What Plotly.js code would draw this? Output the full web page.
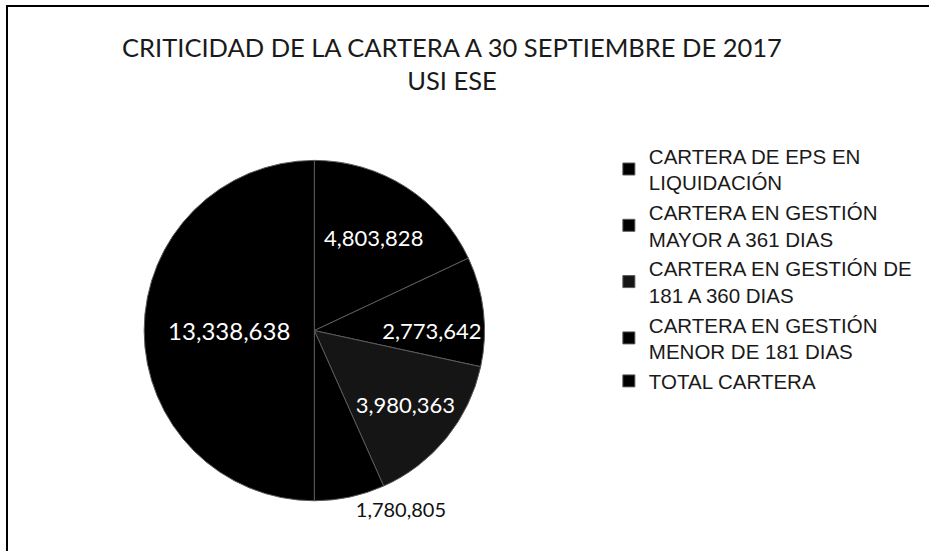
<!DOCTYPE html>
<html>
<head>
<meta charset="utf-8">
<script src="https://cdn.plot.ly/plotly-3.0.1.min.js"></script>
<style>
  html, body { margin: 0; padding: 0; background: #fff; }
  #frame { position: absolute; left: 6px; top: 5px; width: 923px; height: 546px;
           border-left: 2px solid #000; border-top: 2px solid #000; }
  #chart { width: 923px; height: 546px; }
</style>
</head>
<body>
<div id="frame"><div id="chart"></div></div>
<script>
const labels = [
  "CARTERA DE EPS EN<br>LIQUIDACIÓN",
  "CARTERA EN GESTIÓN<br>MAYOR A 361 DIAS",
  "CARTERA EN GESTIÓN DE<br>181 A 360 DIAS",
  "CARTERA EN GESTIÓN<br>MENOR DE 181 DIAS",
  "TOTAL CARTERA"
];
const values = [4803828, 2773642, 3980363, 1780805, 13338638];
const valueText = ["4,803,828", "2,773,642", "3,980,363", "1,780,805", "13,338,638"];

const FONT = "Lato";
const LEGEND_FONT = "Liberation Sans";

const trace = {
  type: "pie",
  labels: labels,
  values: values,
  text: valueText,
  textinfo: "text",
  sort: false,
  direction: "clockwise",
  rotation: 0,
  hoverinfo: "label+value",
  marker: {
    colors: ["#000000", "#000000", "#151515", "#000000", "#000000"],
    line: { color: "#5a5a5a", width: 1 }
  },
  textposition: ["inside", "inside", "inside", "outside", "inside"],
  insidetextorientation: "horizontal",
  textfont: {
    family: FONT,
    size: [22, 22, 22, 20, 24],
    color: ["#ffffff", "#ffffff", "#ffffff", "#111111", "#ffffff"]
  },
  domain: { x: [0.1475, 0.5163], y: [0.0954, 0.7193] }
};

const layout = {
  width: 923, height: 546,
  margin: { l: 0, r: 0, t: 0, b: 0 },
  paper_bgcolor: "#ffffff",
  font: { family: FONT, color: "#000" },
  title: {
    text: "CRITICIDAD DE LA CARTERA A 30 SEPTIEMBRE DE 2017<br>USI ESE",
    font: { family: FONT, size: 25.5, color: "#1a1a1a" },
    x: 0.481, xanchor: "center",
    y: 0.909, yanchor: "top"
  },
  showlegend: true,
  legend: {
    x: 0.651, xanchor: "left",
    y: 0.764, yanchor: "top",
    font: { family: LEGEND_FONT, size: 20.5, color: "#1a1a1a" },
    itemwidth: 30,
    bgcolor: "rgba(0,0,0,0)"
  }
};

Plotly.newPlot("chart", [trace], layout, { displayModeBar: false, staticPlot: true });
</script>
</body>
</html>
